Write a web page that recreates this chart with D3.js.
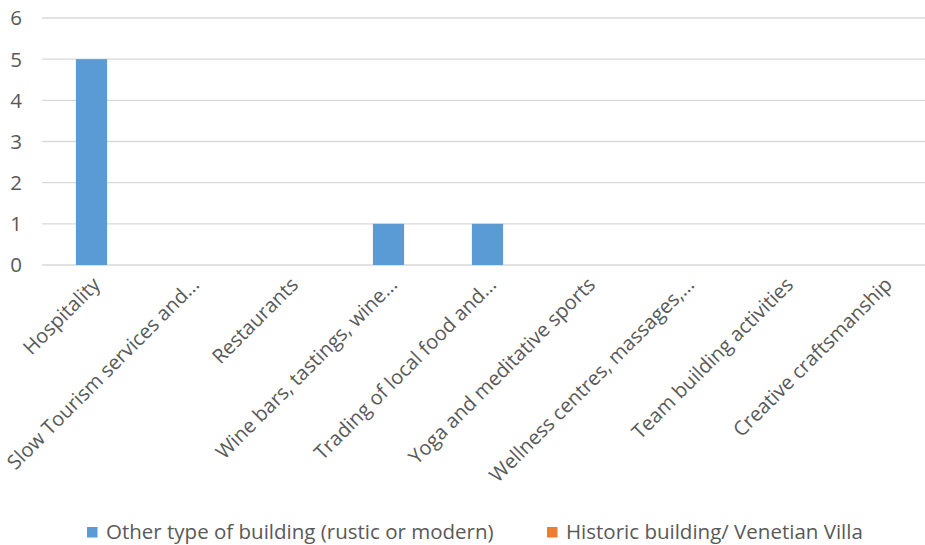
<!DOCTYPE html>
<html>
<head>
<meta charset="utf-8">
<script src="https://cdn.jsdelivr.net/npm/d3@7"></script>
<style>
  body { margin: 0; background: #fff; }
  svg { display: block; font-family: "Open Sans", sans-serif; }
</style>
</head>
<body>
<svg></svg>
<script>
const categories = ["Hospitality", "Slow Tourism services and...", "Restaurants",
    "Wine bars, tastings, wine...", "Trading of local food and...", "Yoga and meditative sports",
    "Wellness centres, massages,...", "Team building activities", "Creative craftsmanship"];
const seriesNames = ["Other type of building (rustic or modern)", "Historic building/ Venetian Villa"];
const otherValues = [5, 0, 0, 1, 1, 0, 0, 0, 0];
const historicValues = [0, 0, 0, 0, 0, 0, 0, 0, 0];
const yTicks = [0, 1, 2, 3, 4, 5, 6];

const width = 925, height = 545;
const margin = ({ top: 18, left: 42, bottom: 280 });
const colors = ["#5b9bd5", "#ed7d31"];
const textColor = "#595959";
const fontSize = 20.5;

const svg = d3.select("svg")
    .attr("width", width)
    .attr("height", height);

const x = d3.scaleBand()
    .domain(categories)
    .range([margin.left, margin.left + 99 * categories.length])
    .padding(0);

const y = d3.scaleLinear()
    .domain([0, 6])
    .range([265, margin.top]);

const barW = x.bandwidth() * 0.315;

// gridlines
svg.append("g")
    .selectAll("line").data(yTicks).enter().append("line")
    .attr("x1", margin.left)
    .attr("x2", width)
    .attr("y1", d => y(d))
    .attr("y2", d => y(d))
    .attr("stroke", "#d9d9d9")
    .attr("stroke-width", 1.3);

// y labels
svg.append("g")
    .attr("font-size", fontSize)
    .attr("fill", textColor)
    .attr("text-anchor", "end")
    .selectAll("text").data(yTicks).enter().append("text")
    .attr("x", 22)
    .attr("y", d => y(d))
    .attr("dy", "0.36em")
    .text(d => d);

// bars (both series overlap at band centre)
const series = [otherValues, historicValues];
series.forEach((vals, s) => {
    svg.append("g")
        .selectAll("rect").data(vals).enter().append("rect")
        .attr("x", (d, i) => x(categories[i]) + (x.bandwidth() - barW) / 2)
        .attr("y", d => y(d))
        .attr("width", barW)
        .attr("height", d => y(0) - y(d))
        .attr("fill", colors[s]);
});

// category labels
svg.append("g")
    .attr("font-size", 20)
    .attr("fill", textColor)
    .attr("text-anchor", "end")
    .selectAll("text").data(categories).enter().append("text")
    .attr("transform", d => `translate(${x(d) + x.bandwidth() / 2 + 5},${281}) rotate(-45)`)
    .attr("dy", "0.35em")
    .text(d => d);

// legend
const legendX = [87, 547];
const legend = svg.append("g")
    .selectAll("g").data(seriesNames).enter().append("g")
    .attr("transform", (d, i) => `translate(${legendX[i]},527)`);

legend.append("rect")
    .attr("width", 10.5)
    .attr("height", 10.5)
    .attr("fill", (d, i) => colors[i]);

legend.append("text")
    .attr("x", 19)
    .attr("y", 5)
    .attr("dy", "0.35em")
    .attr("font-size", fontSize)
    .attr("fill", textColor)
    .text(d => d);
</script>
</body>
</html>
